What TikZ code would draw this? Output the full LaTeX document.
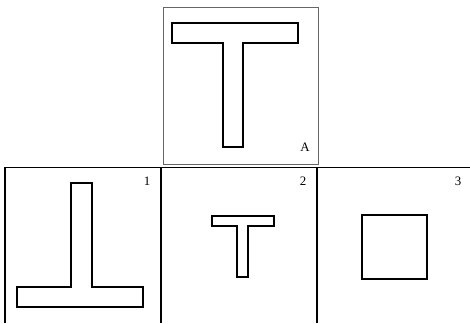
\documentclass[tikz,border=0pt]{standalone}
\usepackage{fontspec}
\setmainfont{Liberation Serif}
\usepackage{tikz}

\begin{document}
\begin{tikzpicture}[x=0.03cm, y=-0.03cm, font=\fontsize{11}{13}\selectfont]
\useasboundingbox (0,0) rectangle (470,323);
\draw[color=gray!80!black, line width=0.6pt] (163,7) rectangle (318,164);
\draw[line width=0.8pt] (4,167) -- (470,167);
\foreach \x in {5,161,317} {
\draw[line width=1pt] (\x,167) -- (\x,323);
}
\draw[line width=1pt] (172,23) -- (298,23) -- (298,43) -- (243,43) -- (243,147) -- (223,147) -- (223,43) -- (172,43) -- cycle;
\draw[line width=1pt] (71,183) -- (92,183) -- (92,287) -- (143,287) -- (143,307) -- (17,307) -- (17,287) -- (71,287) -- cycle;
\draw[line width=1pt] (212,216) -- (274,216) -- (274,226) -- (248,226) -- (248,277) -- (237,277) -- (237,226) -- (212,226) -- cycle;
\draw[line width=1pt] (362,215) rectangle (427,279);
\node (labA) at (305,147) {A};
\foreach \n/\px in {1/147, 2/303, 3/458} {
\node (lab\n) at (\px,181) {\n};
}
\end{tikzpicture}
\end{document}
